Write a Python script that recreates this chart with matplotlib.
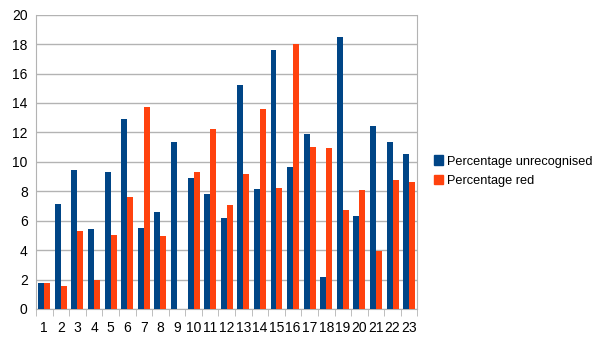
import numpy as np
import matplotlib
matplotlib.use("Agg")
import matplotlib.pyplot as plt
from matplotlib.patches import Patch

plt.rcParams["font.family"] = ["Liberation Sans", "DejaVu Sans"]

categories = list(range(1, 24))
unrecognised = [1.77, 7.16, 9.44, 5.44, 9.31, 12.91, 5.50, 6.59, 11.35, 8.90, 7.81, 6.18,
                15.22, 8.15, 17.60, 9.65, 11.89, 2.17, 18.48, 6.32, 12.43, 11.35, 10.53]
red = [1.77, 1.59, 5.32, 1.99, 5.03, 7.61, 13.73, 4.96, 0.0, 9.31, 12.23, 7.07,
       9.17, 13.59, 8.22, 18.01, 11.01, 10.94, 6.73, 8.09, 3.94, 8.77, 8.63]
labels = ["Percentage unrecognised", "Percentage red"]
colors = ["#004586", "#ff420e"]

fig = plt.figure(figsize=(6.05, 3.4), dpi=100)
ax = fig.add_axes([0.0595, 0.0912, 0.6305, 0.8656])

x = np.array(categories)
w = 0.36
ax.bar(x - w / 2, unrecognised, w, color=colors[0], zorder=3)
ax.bar(x + w / 2, red, w, color=colors[1], zorder=3)

ax.set_xlim(0.5, 23.5)
ax.set_ylim(0, 20)
ax.set_yticks(range(0, 21, 2))
ax.set_xticks(x)
ax.set_xticklabels([str(c) for c in categories])
ax.set_xticks(np.arange(0.5, 24, 1), minor=True)
ax.tick_params(axis="x", which="major", length=0, labelsize=10, pad=9)
ax.tick_params(axis="x", which="minor", length=5, color="#b3b3b3", direction="out")
ax.tick_params(axis="y", length=0, labelsize=10, pad=6)
ax.grid(axis="y", color="#b3b3b3", linewidth=1, zorder=0)
for s in ["left", "right", "bottom"]:
    ax.spines[s].set_color("#b3b3b3")
ax.spines["top"].set_visible(False)

handles = [Patch(color=c) for c in colors]
fig.legend(handles, labels, loc="center left", bbox_to_anchor=(0.698, 0.497),
           frameon=False, fontsize=9.2, handlelength=0.75, handleheight=0.75,
           handletextpad=0.3, labelspacing=0.55)

fig.savefig("out.png", dpi=100)
